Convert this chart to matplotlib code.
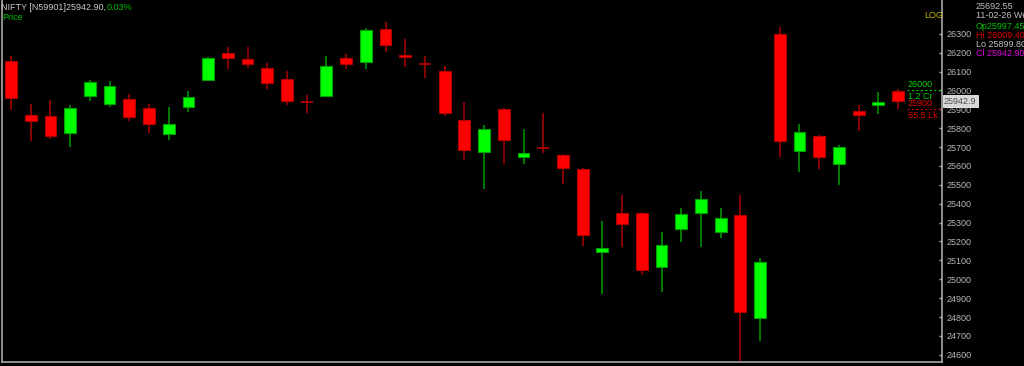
import matplotlib
matplotlib.use('Agg')
import matplotlib.pyplot as plt
import numpy as np

plt.rcParams['font.family'] = ['Liberation Sans', 'DejaVu Sans']

# daily OHLC (NIFTY)
opens = [26155, 25870, 25865, 25775, 25970, 25930, 25955, 25905, 25770, 25910,
         26055, 26200, 26165, 26120, 26060, 25945, 25970, 26170, 26150, 26325,
         26190, 26142, 26105, 25845, 25675, 25900, 25650, 25700, 25660, 25585,
         25145, 25350, 25350, 25065, 25265, 25350, 25250, 25340, 24795, 26300,
         25680, 25760, 25610, 25890, 25925, 25997.45]
highs = [26180, 25930, 25950, 25925, 26055, 26050, 25980, 25930, 25910, 25995,
         26175, 26230, 26230, 26145, 26105, 25975, 26185, 26195, 26330, 26365,
         26270, 26185, 26130, 25940, 25815, 25905, 25795, 25880, 25665, 25590,
         25310, 25445, 25355, 25250, 25380, 25465, 25375, 25445, 25115, 26335,
         25820, 25765, 25710, 25925, 25990, 26009.40]
lows = [25895, 25730, 25745, 25700, 25945, 25910, 25840, 25775, 25735, 25885,
        26050, 26115, 26120, 26010, 25925, 25880, 25965, 26115, 26115, 26205,
        26125, 26065, 25865, 25630, 25480, 25610, 25610, 25670, 25505, 25175,
        24920, 25170, 25025, 24935, 25195, 25170, 25220, 24565, 24675, 25650,
        25570, 25585, 25500, 25785, 25875, 25899.80]
closes = [25960, 25840, 25760, 25905, 26045, 26025, 25860, 25820, 25820, 25965,
          26170, 26170, 26140, 26040, 25945, 25940, 26130, 26140, 26320, 26240,
          26175, 26138, 25880, 25685, 25795, 25735, 25670, 25697, 25590, 25235,
          25165, 25295, 25050, 25180, 25345, 25425, 25325, 24825, 25090, 25730,
          25780, 25650, 25700, 25870, 25940, 25942.90]

yticks = list(range(24600, 26400, 100))
level_hi, level_lo = 26000, 25900

FS = 6.5

fig = plt.figure(figsize=(10.24, 3.66), dpi=100, facecolor='black')
ax = fig.add_axes([2/1024, 4/366, 940/1024, 362/366])
ax.set_facecolor('black')

x = np.arange(len(opens))
o = np.array(opens); h = np.array(highs); l = np.array(lows); c = np.array(closes)
up = c > o
w = 0.6

# wicks
ax.vlines(x[up], l[up], h[up], color='#009000', lw=1.2, zorder=2)
ax.vlines(x[~up], l[~up], h[~up], color='#a00000', lw=1.2, zorder=2)

# bodies
body = np.abs(c - o)
doji = body < 8
bot = np.minimum(o, c)
ax.bar(x[up & ~doji], body[up & ~doji], w, bottom=bot[up & ~doji],
       color='#00ff00', edgecolor='#00a000', lw=0.8, zorder=3)
ax.bar(x[~up & ~doji], body[~up & ~doji], w, bottom=bot[~up & ~doji],
       color='#ff0000', edgecolor='#b00000', lw=0.8, zorder=3)
ax.bar(x[up & doji], np.maximum(body[up & doji], 20), w, bottom=bot[up & doji] - 5,
       color='#00ff00', edgecolor='#00a000', lw=0.8, zorder=3)
ax.hlines(c[~up & doji], x[~up & doji] - w/2, x[~up & doji] + w/2,
          color='#b00000', lw=1.3, zorder=3)

ax.set_xlim(-0.457, 47.23)
ax.set_ylim(24561.7, 26479.2)

ax.spines['top'].set_visible(False)
for s in ['left', 'bottom', 'right']:
    ax.spines[s].set_color('#a8a8a8')
    ax.spines[s].set_linewidth(1.2)
ax.set_xticks([])
ax.yaxis.tick_right()
ax.set_yticks(yticks)
ax.set_yticklabels([str(t) for t in yticks])
ax.tick_params(axis='y', colors='#a8a8a8', labelcolor='#b8b8b8', labelsize=FS,
               length=2, direction='in', pad=3, width=1)

# level lines on the last bar
ax.hlines([level_hi], 45.45, 47.23, color='#00c000', lw=0.8, linestyles=(0, (2, 2)), zorder=4)
ax.hlines([level_lo], 45.45, 47.23, color='#c00000', lw=0.8, linestyles=(0, (2, 2)), zorder=4)


def ftxt(px, py, s, color, **kw):
    fig.text(px/1024, 1 - py/366, s, color=color, fontsize=FS, va='center', ha='left', **kw)


ftxt(908, 84.5, '26000', '#00d000')
ftxt(908, 96.5, '1.2 Cr', '#00d000')
ftxt(908, 103.5, '25900', '#e00000')
ftxt(908, 115.5, '65.5 Lk', '#e00000')

# current price tag
fig.text(944/1024, 1 - 101/366, '25942.9', color='#505050', fontsize=FS, va='center', ha='left',
         bbox=dict(boxstyle='square,pad=0.15', fc='#d8d8d8', ec='#f0f0f0', lw=0.6))

# header
ftxt(1, 7, 'NIFTY [N59901]25942.90,', '#c8c8c8')
ftxt(107, 7, '0.03%', '#00c000')
ftxt(2, 17, 'Price', '#00c000')
ftxt(924, 16, 'LOG', '#c8b400')

# info box top-right
ftxt(976, 6.5, '25692.55', '#c0c0c0')
ftxt(976, 16, '11-02-26 We', '#c0c0c0')
ftxt(976, 26.5, 'Op25997.45', '#00c000')
ftxt(976, 35.5, 'Hi 26009.40', '#e00000')
ftxt(976, 44.5, 'Lo 25899.80', '#c0c0c0')
ftxt(976, 54, 'Cl 25942.90', '#e000e0')

fig.savefig('out.png', dpi=100, facecolor='black')
